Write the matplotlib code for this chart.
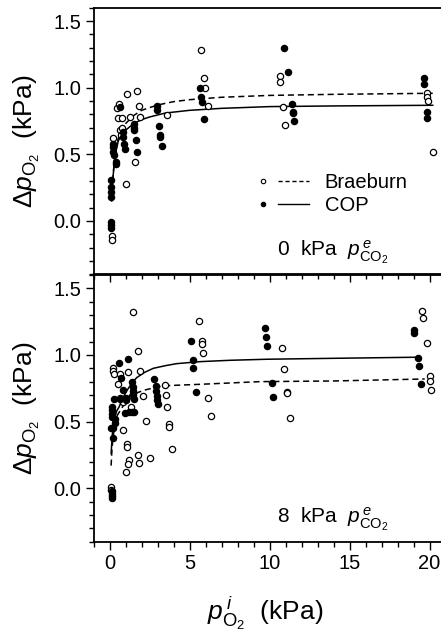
#%% import
import numpy as np
import matplotlib
matplotlib.use('Agg')
import matplotlib.pyplot as plt
from matplotlib.lines import Line2D
from matplotlib.legend_handler import HandlerTuple
from matplotlib.ticker import MultipleLocator

plt.rcParams['font.family'] = ['Liberation Sans', 'DejaVu Sans']
plt.rcParams['mathtext.fontset'] = 'custom'
plt.rcParams['mathtext.rm'] = 'Liberation Sans'
plt.rcParams['mathtext.it'] = 'Liberation Sans:italic'
plt.rcParams['mathtext.bf'] = 'Liberation Sans:bold'

#%% data: 0 kPa CO2 (top panel)
top_brae_x = [0.2, 0.18, 0.18, 0.45, 0.61, 0.53, 0.76, 0.66, 0.8, 0.72, 1.01, 1.11, 1.28, 1.6, 1.72,
              1.82, 1.9, 3.57, 5.72, 5.93, 5.99, 6.14, 10.66, 10.66, 10.86, 10.97,
              19.82, 19.86, 19.9, 20.24]
top_brae_y = [0.62, -0.11, -0.14, 0.85, 0.88, 0.775, 0.775, 0.683, 0.695, 0.645, 0.278, 0.953, 0.783,
              0.445, 0.975, 0.863, 0.783, 0.795, 1.283, 1.07, 0.995, 0.863, 1.09, 1.045, 0.853,
              0.72, 0.958, 0.928, 0.9, 0.52]

top_cop_x = [0.07, 0.1, 0.1, 0.1, 0.08, 0.08, 0.08, 0.2, 0.24, 0.24, 0.28, 0.38, 0.38, 0.66, 0.87,
             0.87, 0.93, 0.97, 1.53, 1.53, 1.55, 1.66, 1.74, 2.99, 2.99, 3.11, 3.18, 3.18, 3.26,
             5.66, 5.74, 5.76, 5.89, 10.93, 11.18, 11.39, 11.47, 11.47, 11.5,
             19.63, 19.66, 19.86, 19.86]
top_cop_y = [0.308, 0.258, 0.22, 0.18, -0.01, -0.03, -0.05, 0.58, 0.557, 0.52, 0.495, 0.44, 0.43,
             0.853, 0.633, 0.67, 0.575, 0.538, 0.728, 0.695, 0.683, 0.608, 0.515, 0.863, 0.833,
             0.715, 0.645, 0.628, 0.565, 1.0, 0.928, 0.89, 0.765, 1.30, 1.12, 0.875, 0.82, 0.81,
             0.752, 1.07, 1.03, 0.82, 0.77]

# fitted curves
top_cop_fit_x = [0.14, 0.2, 0.3, 0.4, 0.55, 0.75, 1.0, 1.5, 2.0, 2.5, 3.5, 5.0, 7.0, 10.0, 14.0, 20.2]
top_cop_fit_y = [0.15, 0.3, 0.44, 0.52, 0.6, 0.65, 0.68, 0.73, 0.76, 0.78, 0.81, 0.83, 0.845, 0.858,
                 0.863, 0.868]
top_brae_fit_x = [0.14, 0.2, 0.3, 0.4, 0.55, 0.75, 1.0, 1.5, 2.0, 3.0, 4.0, 5.0, 7.0, 10.0, 14.0, 20.2]
top_brae_fit_y = [0.15, 0.3, 0.45, 0.54, 0.62, 0.68, 0.73, 0.79, 0.83, 0.87, 0.895, 0.91, 0.928,
                  0.942, 0.95, 0.958]

#%% data: 8 kPa CO2 (bottom panel)
bot_brae_x = [1.45, 0.24, 0.24, 0.25, 0.55, 0.66, 1.16, 1.76, 1.9, 0.66, 0.76, 0.86, 1.34, 1.39,
              2.07, 2.28, 0.86, 1.11, 1.11, 1.24, 1.14, 1.01, 1.76, 1.82, 2.53, 3.47, 3.53, 3.61,
              3.74, 3.74, 3.93, 5.61, 5.76, 5.76, 5.84, 6.18, 6.32, 0.09, 0.09,
              10.76, 10.93, 11.11, 11.11, 11.28, 19.55, 19.6, 19.82, 20.03, 20.05, 20.1]
bot_brae_y = [1.325, 0.90, 0.88, 0.855, 0.78, 0.86, 0.87, 1.03, 0.88, 0.675, 0.668, 0.65, 0.61,
              0.69, 0.69, 0.507, 0.437, 0.332, 0.312, 0.212, 0.18, 0.12, 0.25, 0.1875, 0.225,
              0.775, 0.70, 0.608, 0.482, 0.457, 0.295, 1.255, 1.107, 1.08, 1.017, 0.675, 0.545,
              0.012, -0.013, 1.055, 0.895, 0.725, 0.713, 0.525, 1.33, 1.275, 1.092, 0.842,
              0.807, 0.737]

bot_cop_x = [0.15, 0.15, 0.15, 0.15, 0.15, 0.15, 0.15, 0.15, 0.07, 0.2, 0.2, 0.3, 0.35, 0.35,
             0.61, 1.18, 0.72, 0.86, 1.03, 1.03, 0.66, 0.97, 1.42, 1.45, 1.45, 1.48, 1.5, 1.24,
             1.4, 1.5, 2.8, 2.9, 2.93, 2.95, 2.97, 3.0, 5.07, 5.2, 5.24, 5.43,
             9.72, 9.78, 9.86, 10.14, 10.24, 19.05, 19.05, 19.26, 19.32, 19.45]
bot_cop_y = [-0.02, -0.04, -0.06, -0.07, 0.61, 0.59, 0.56, 0.537, 0.45, 0.45, 0.38, 0.67, 0.52,
             0.49, 0.94, 0.967, 0.83, 0.737, 0.675, 0.662, 0.668, 0.567, 0.8, 0.762, 0.732, 0.70,
             0.668, 0.575, 0.575, 0.575, 0.818, 0.77, 0.73, 0.69, 0.66, 0.63, 1.105, 0.963,
             0.905, 0.725, 1.205, 1.137, 1.067, 0.787, 0.687, 1.187, 1.167, 0.98, 0.92, 0.782]

bot_cop_fit_x = [0.1, 0.2, 0.3, 0.45, 0.6, 0.8, 1.1, 1.4, 1.7, 2.2, 2.74, 3.5, 4.2, 5.66, 7.5, 9.83,
                 14.0, 19.1]
bot_cop_fit_y = [0.26, 0.44, 0.52, 0.58, 0.61, 0.67, 0.735, 0.79, 0.83, 0.87, 0.9, 0.92, 0.935,
                 0.95, 0.96, 0.968, 0.975, 0.983]
bot_brae_fit_x = [0.1, 0.15, 0.2, 0.3, 0.5, 0.81, 1.1, 1.4, 1.8, 2.3, 3.0, 3.57, 5.66, 9.4, 14.0, 19.7]
bot_brae_fit_y = [0.17, 0.28, 0.36, 0.45, 0.55, 0.61, 0.66, 0.69, 0.72, 0.74, 0.76, 0.77, 0.78,
                  0.8, 0.805, 0.82]

ylabel = r'$\Delta p_{\mathrm{O_2}}$  (kPa)'
xlabel = r'$p^{\,i}_{\mathrm{O_2}}$  (kPa)'
panel_text = [r'0  kPa  $p^{\,e}_{\mathrm{CO_2}}$', r'8  kPa  $p^{\,e}_{\mathrm{CO_2}}$']


#%% function
def style_axes(ax):
    ax.set_xlim(-1, 21)
    ax.set_ylim(-0.4, 1.6)
    ax.set_facecolor('none')
    ax.xaxis.set_major_locator(MultipleLocator(5))
    ax.xaxis.set_minor_locator(MultipleLocator(1))
    ax.yaxis.set_major_locator(MultipleLocator(0.5))
    ax.yaxis.set_minor_locator(MultipleLocator(0.1))
    ax.yaxis.set_major_formatter(plt.FuncFormatter(lambda v, p: f'{v:.1f}'))
    ax.tick_params(which='both', direction='out', width=1.0, labelsize=14.5, pad=3)
    ax.tick_params(which='major', length=6)
    ax.tick_params(which='minor', length=3.5)
    for s in ax.spines.values():
        s.set_linewidth(1.3)
    ax.set_ylabel(ylabel, fontsize=19)
    ax.yaxis.set_label_coords(-0.145, 0.5)


def add_panel(ax, bx, by, cx, cy, bfx, bfy, cfx, cfy, text):
    ax.plot(bfx, bfy, color='black', lw=1.1, ls=(0, (4, 2.5)))
    ax.plot(cfx, cfy, color='black', lw=1.1, ls='-')
    ax.plot(bx, by, 'o', ms=4.5, mfc='white', mec='black', mew=0.9, ls='none')
    ax.plot(cx, cy, 'o', ms=4.5, mfc='black', mec='black', mew=0.9, ls='none')
    ax.text(0.521, 0.085, text, transform=ax.transAxes, fontsize=15, va='center', ha='left')


#%% main
fig = plt.figure(figsize=(4.41, 6.33), dpi=100)
left, width, height = 93.5 / 441, 352 / 441, 266.6 / 633
ax2 = fig.add_axes([left, 1 - 541.6 / 633, width, height])
ax1 = fig.add_axes([left, 1 - 274.3 / 633, width, height])

add_panel(ax1, top_brae_x, top_brae_y, top_cop_x, top_cop_y,
          top_brae_fit_x, top_brae_fit_y, top_cop_fit_x, top_cop_fit_y, panel_text[0])
add_panel(ax2, bot_brae_x, bot_brae_y, bot_cop_x, bot_cop_y,
          bot_brae_fit_x, bot_brae_fit_y, bot_cop_fit_x, bot_cop_fit_y, panel_text[1])

for ax in (ax1, ax2):
    style_axes(ax)
ax1.tick_params(axis='x', labelbottom=False)
ax2.set_xlabel(xlabel, fontsize=19)
ax2.xaxis.set_label_coords(0.487, -0.2)

# legend: marker then line, as in the original
h_b = (Line2D([], [], ls='none', marker='o', ms=3.2, mfc='white', mec='black', mew=0.8),
       Line2D([], [], color='black', lw=1.0, ls=(0, (3, 2))))
h_c = (Line2D([], [], ls='none', marker='o', ms=3.2, mfc='black', mec='black', mew=0.8),
       Line2D([], [], color='black', lw=1.0))
ax1.legend([h_b, h_c], ['Braeburn', 'COP'], handler_map={tuple: HandlerTuple(ndivide=None, pad=0)},
           loc='upper left', bbox_to_anchor=(0.436, 0.38), frameon=False, fontsize=14.5,
           handlelength=3.1, handletextpad=0.75, labelspacing=0.2, borderpad=0, borderaxespad=0)

plt.savefig('out.png', dpi=100)
